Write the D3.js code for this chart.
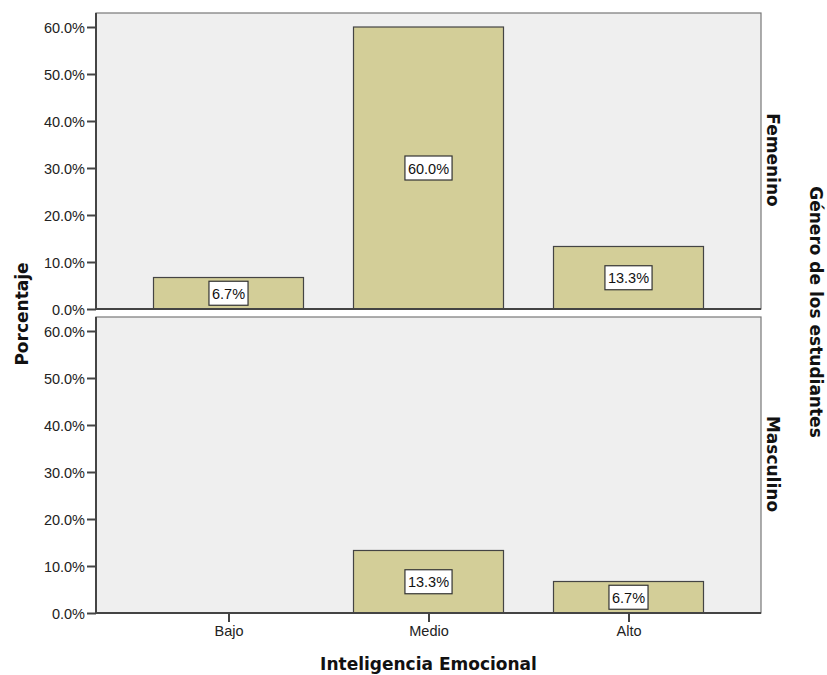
<!DOCTYPE html>
<html><head><meta charset="utf-8">
<script src="https://cdn.jsdelivr.net/npm/d3@7"></script>
<style>body{margin:0;background:#fff}svg{display:block}</style>
</head><body>
<script>
const categories = ["Bajo", "Medio", "Alto"];
const panels = ["Femenino", "Masculino"];
const femenino = [6.7, 60.0, 13.3];
const masculino = [0, 13.3, 6.7];
const yTicks = [0, 10, 20, 30, 40, 50, 60];
const seriesByPanel = [femenino, masculino];

const W = 827, H = 675;
const svg = d3.select("body").append("svg").attr("width", W).attr("height", H);
const font = "'Liberation Sans', Arial, sans-serif";
const titleFont = "'DejaVu Sans', sans-serif";

const left = 96, right = 761;
const panelGeo = [{top: 13, zero: 309}, {top: 317, zero: 613}];
const x = d3.scalePoint().domain(categories).range([left, right]).padding(0.6625);
const step = x.step();
const barW = step * 0.75;

panelGeo.forEach((g, pi) => {
  const y = d3.scaleLinear().domain([0, 60]).range([g.zero, g.zero - 282]);
  const gp = svg.append("g");
  gp.append("rect").attr("x", left).attr("y", g.top).attr("width", right - left).attr("height", g.zero - g.top)
    .attr("fill", "#efefef").attr("stroke", "#777").attr("stroke-width", 1.2);
  const vals = seriesByPanel[pi];
  categories.forEach((c, i) => {
    const v = vals[i];
    if (v <= 0) return;
    gp.append("rect").attr("x", x(c) - barW / 2).attr("y", y(v)).attr("width", barW).attr("height", y(0) - y(v))
      .attr("fill", "#d3ce98").attr("stroke", "#444").attr("stroke-width", 1.2);
  });
  const ax = gp.append("g").attr("transform", `translate(${left},0)`)
    .call(d3.axisLeft(y).tickValues(yTicks).tickFormat(d => d.toFixed(1) + "%").tickSize(9).tickPadding(2));
  ax.select(".domain").attr("stroke", "#444").attr("stroke-width", 2).attr("d", `M0,${g.top}V${g.zero}`);
  ax.selectAll(".tick line").attr("stroke", "#444").attr("stroke-width", 2);
  ax.selectAll(".tick text").attr("font-family", font).attr("font-size", 14.5).attr("fill", "#222").attr("dy", "0.4em");
  gp.append("line").attr("x1", left).attr("x2", right).attr("y1", g.zero).attr("y2", g.zero)
    .attr("stroke", "#444").attr("stroke-width", 2);
  categories.forEach((c, i) => {
    const v = vals[i];
    if (v <= 0) return;
    const cy = (y(v) + y(0)) / 2;
    const txt = v.toFixed(1) + "%";
    const lg = gp.append("g");
    const t = lg.append("text").attr("x", x(c)).attr("y", cy + 5.5).attr("text-anchor", "middle")
      .attr("font-family", font).attr("font-size", 14.5).attr("fill", "#111").text(txt);
    const bw = t.node().getComputedTextLength() + 6;
    lg.insert("rect", "text").attr("x", x(c) - bw / 2).attr("y", cy - 12).attr("width", bw).attr("height", 24)
      .attr("fill", "#fff").attr("stroke", "#333").attr("stroke-width", 1.2);
  });
  const mid = pi === 0 ? 160 : 464;
  svg.append("text").attr("transform", `translate(767,${mid}) rotate(90)`).attr("text-anchor", "middle")
    .attr("font-family", titleFont).attr("font-weight", "bold").attr("font-size", 17).attr("fill", "#111").text(panels[pi]);
});

const xa = svg.append("g").attr("transform", `translate(0,${panelGeo[1].zero})`)
  .call(d3.axisBottom(x).tickSize(9).tickPadding(4));
xa.select(".domain").remove();
xa.selectAll(".tick line").attr("stroke", "#444").attr("stroke-width", 2);
xa.selectAll(".tick text").attr("font-family", font).attr("font-size", 14.5).attr("fill", "#222");

svg.append("text").attr("x", (left + right) / 2).attr("y", 670).attr("text-anchor", "middle")
  .attr("font-family", titleFont).attr("font-weight", "bold").attr("font-size", 17).attr("fill", "#111").text("Inteligencia Emocional");
svg.append("text").attr("transform", `translate(28,314) rotate(-90)`).attr("text-anchor", "middle")
  .attr("font-family", titleFont).attr("font-weight", "bold").attr("font-size", 17).attr("fill", "#111").text("Porcentaje");
svg.append("text").attr("transform", `translate(810,312) rotate(90)`).attr("text-anchor", "middle")
  .attr("font-family", titleFont).attr("font-weight", "bold").attr("font-size", 17).attr("fill", "#111").text("Género de los estudiantes");
</script>
</body></html>
